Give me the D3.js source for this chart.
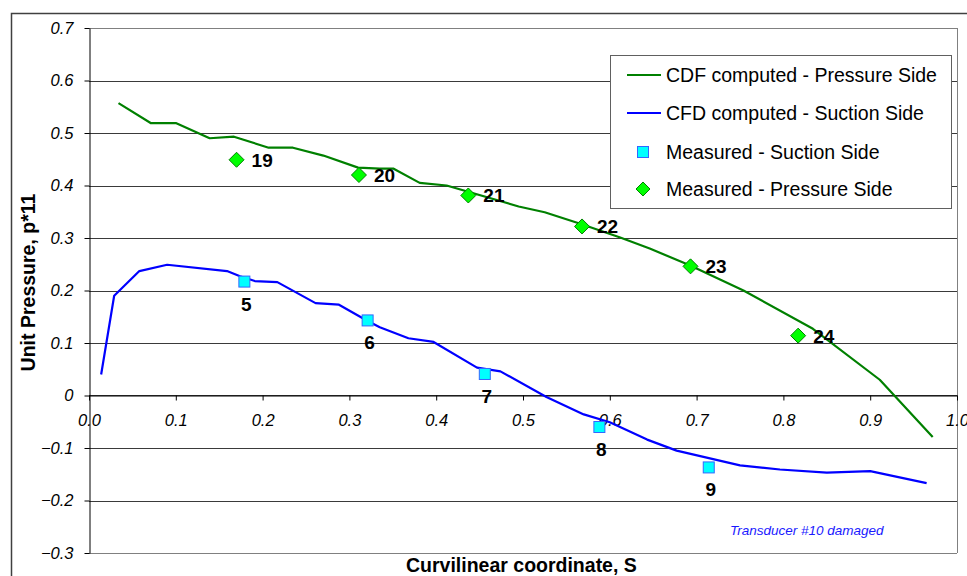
<!DOCTYPE html>
<html>
<head>
<meta charset="utf-8">
<script src="https://cdn.jsdelivr.net/npm/d3@7"></script>
<style>
  body { margin: 0; background: #fff; }
  svg text { font-family: Arial, "Liberation Sans", sans-serif; }
</style>
</head>
<body>
<div id="chart"></div>
<script>
// pressure side, CFD computed (green line)
const pressureCfdS = [0.034, 0.071, 0.100, 0.139, 0.167, 0.207, 0.235, 0.270, 0.310, 0.335, 0.351, 0.381, 0.412, 0.495, 0.525, 0.566, 0.612, 0.646, 0.692, 0.754, 0.834, 0.911, 0.972];
const pressureCfdP = [0.557, 0.519, 0.519, 0.490, 0.493, 0.472, 0.472, 0.457, 0.434, 0.432, 0.432, 0.405, 0.400, 0.360, 0.349, 0.327, 0.301, 0.280, 0.248, 0.200, 0.127, 0.030, -0.079];

// suction side, CFD computed (blue line)
const suctionCfdS = [0.014, 0.029, 0.058, 0.090, 0.159, 0.174, 0.191, 0.217, 0.261, 0.288, 0.320, 0.335, 0.368, 0.397, 0.447, 0.474, 0.527, 0.570, 0.600, 0.643, 0.677, 0.750, 0.796, 0.850, 0.900, 0.965];
const suctionCfdP = [0.040, 0.190, 0.237, 0.249, 0.237, 0.227, 0.218, 0.216, 0.176, 0.173, 0.143, 0.130, 0.109, 0.102, 0.053, 0.046, -0.003, -0.036, -0.051, -0.084, -0.105, -0.133, -0.141, -0.147, -0.144, -0.167];

// measured transducers
const measuredSuctionS = [0.179, 0.321, 0.456, 0.588, 0.714];
const measuredSuctionP = [0.217, 0.143, 0.041, -0.060, -0.137];
const measuredSuctionIds = ["5", "6", "7", "8", "9"];

const measuredPressureS = [0.170, 0.311, 0.437, 0.568, 0.693, 0.817];
const measuredPressureP = [0.449, 0.420, 0.381, 0.322, 0.246, 0.114];
const measuredPressureIds = ["19", "20", "21", "22", "23", "24"];

const xTicks = [0, 0.1, 0.2, 0.3, 0.4, 0.5, 0.6, 0.7, 0.8, 0.9, 1.0];
const yTicks = [-0.3, -0.2, -0.1, 0, 0.1, 0.2, 0.3, 0.4, 0.5, 0.6, 0.7];

const legendLabels = [
  "CDF computed - Pressure Side",
  "CFD computed - Suction Side",
  "Measured - Suction Side",
  "Measured - Pressure Side",
];

const WIDTH = 967;
const HEIGHT = 576;
const PLOT = { left: 89, right: 957, top: 28, bottom: 553 };

const GREEN = "#008000";
const BLUE = "#0000ff";

const zip = (xs, ys) => xs.map((s, i) => ({ s, p: ys[i] }));

const svg = d3.select("#chart")
  .append("svg")
  .attr("width", WIDTH)
  .attr("height", HEIGHT);

// outer chart frame (only top/left edges are in view)
svg.append("rect")
  .attr("x", 11.5).attr("y", 13.5)
  .attr("width", 1200).attr("height", 1200)
  .attr("fill", "#fff")
  .attr("stroke", "#404040")
  .attr("stroke-width", 1.5);

const x = d3.scaleLinear().domain([0, 1]).range([PLOT.left, PLOT.right]);
const y = d3.scaleLinear().domain([-0.3, 0.7]).range([PLOT.bottom, PLOT.top]);
const crisp = (v) => Math.round(v) + 0.5;

// gridlines
svg.append("g")
  .selectAll("line")
  .data(yTicks)
  .join("line")
  .attr("x1", PLOT.left).attr("x2", PLOT.right)
  .attr("y1", (d) => crisp(y(d))).attr("y2", (d) => crisp(y(d)))
  .attr("stroke", (d) => (d === 0.7 || d === -0.3 ? "#808080" : "#3a3a3a"))
  .attr("stroke-width", 1);

// right edge of the plot area
svg.append("line")
  .attr("x1", crisp(PLOT.right)).attr("x2", crisp(PLOT.right))
  .attr("y1", PLOT.top).attr("y2", PLOT.bottom)
  .attr("stroke", "#808080");

// y axis
const yAxis = svg.append("g")
  .attr("transform", `translate(${crisp(PLOT.left)},0)`)
  .call(
    d3.axisLeft(y)
      .tickValues(yTicks)
      .tickSize(5)
      .tickSizeOuter(0)
      .tickPadding(11)
      .tickFormat((d) => (d === 0 ? "0" : d3.format(".1f")(d)))
  );

// x axis sits on p = 0
const xAxis = svg.append("g")
  .attr("transform", `translate(0,${crisp(y(0))})`)
  .call(
    d3.axisBottom(x)
      .tickValues(xTicks)
      .tickSize(5)
      .tickSizeOuter(0)
      .tickPadding(14)
      .tickFormat(d3.format(".1f"))
  );

[yAxis, xAxis].forEach((ax) => {
  ax.select(".domain").attr("stroke", "#000");
  ax.selectAll(".tick line").attr("stroke", "#000");
  ax.selectAll(".tick text")
    .attr("fill", "#000")
    .style("font-size", "16.5px")
    .style("font-style", "italic")
    .style("font-family", "Arial, 'Liberation Sans', sans-serif");
});

// axis titles
svg.append("text")
  .attr("transform", `translate(35,${(PLOT.top + PLOT.bottom) / 2 - 8}) rotate(-90)`)
  .attr("text-anchor", "middle")
  .style("font-size", "19.5px")
  .style("font-weight", "bold")
  .text("Unit Pressure, p*11");

svg.append("text")
  .attr("x", 406)
  .attr("y", 572)
  .style("font-size", "19.5px")
  .style("font-weight", "bold")
  .text("Curvilinear coordinate, S");

// note
svg.append("text")
  .attr("x", 730)
  .attr("y", 535)
  .attr("fill", "#1a1aff")
  .style("font-size", "13.5px")
  .style("font-style", "italic")
  .text("Transducer #10 damaged");

// CFD lines
const line = d3.line().x((d) => x(d.s)).y((d) => y(d.p));

svg.append("path")
  .datum(zip(pressureCfdS, pressureCfdP))
  .attr("fill", "none")
  .attr("stroke", GREEN)
  .attr("stroke-width", 2.2)
  .attr("stroke-linejoin", "round")
  .attr("d", line);

svg.append("path")
  .datum(zip(suctionCfdS, suctionCfdP))
  .attr("fill", "none")
  .attr("stroke", BLUE)
  .attr("stroke-width", 2.2)
  .attr("stroke-linejoin", "round")
  .attr("d", line);

// markers
const diamond = (r) => `M0,${-r}L${r},0L0,${r}L${-r},0Z`;

function drawSquare(g) {
  g.append("rect")
    .attr("x", -5.5).attr("y", -5.5)
    .attr("width", 11).attr("height", 11)
    .attr("fill", "#00ffff")
    .attr("stroke", "#3366ff")
    .attr("stroke-width", 1);
}

function drawDiamond(g, r) {
  g.append("path")
    .attr("d", diamond(r))
    .attr("fill", "#00ff00")
    .attr("stroke", GREEN)
    .attr("stroke-width", 1);
}

const suctionPts = zip(measuredSuctionS, measuredSuctionP)
  .map((d, i) => ({ ...d, id: measuredSuctionIds[i] }));
const pressurePts = zip(measuredPressureS, measuredPressureP)
  .map((d, i) => ({ ...d, id: measuredPressureIds[i] }));

const sq = svg.append("g")
  .selectAll("g")
  .data(suctionPts)
  .join("g")
  .attr("transform", (d) => `translate(${x(d.s)},${y(d.p)})`);
sq.each(function () { drawSquare(d3.select(this)); });
sq.append("text")
  .attr("x", 2)
  .attr("y", 29)
  .attr("text-anchor", "middle")
  .style("font-size", "19px")
  .style("font-weight", "bold")
  .text((d) => d.id);

const dm = svg.append("g")
  .selectAll("g")
  .data(pressurePts)
  .join("g")
  .attr("transform", (d) => `translate(${x(d.s)},${y(d.p)})`);
dm.each(function () { drawDiamond(d3.select(this), 7.5); });
dm.append("text")
  .attr("x", 15)
  .attr("y", 7)
  .style("font-size", "19px")
  .style("font-weight", "bold")
  .text((d) => d.id);

// legend
const legend = svg.append("g");
legend.append("rect")
  .attr("x", 610.5).attr("y", 55.5)
  .attr("width", 341).attr("height", 153)
  .attr("fill", "#fff")
  .attr("stroke", "#606060");

const legendRows = [75, 113, 152, 189];
legendLabels.forEach((label, i) => {
  const row = legend.append("g").attr("transform", `translate(0,${legendRows[i]})`);
  if (i === 0 || i === 1) {
    row.append("line")
      .attr("x1", 627).attr("x2", 661)
      .attr("stroke", i === 0 ? GREEN : BLUE)
      .attr("stroke-width", 2.2);
  } else if (i === 2) {
    const m = row.append("g").attr("transform", "translate(643,0)");
    drawSquare(m);
  } else {
    const m = row.append("g").attr("transform", "translate(643,0)");
    drawDiamond(m, 7);
  }
  row.append("text")
    .attr("x", 666)
    .attr("y", 7)
    .style("font-size", "19.5px")
    .text(label);
});
</script>
</body>
</html>
